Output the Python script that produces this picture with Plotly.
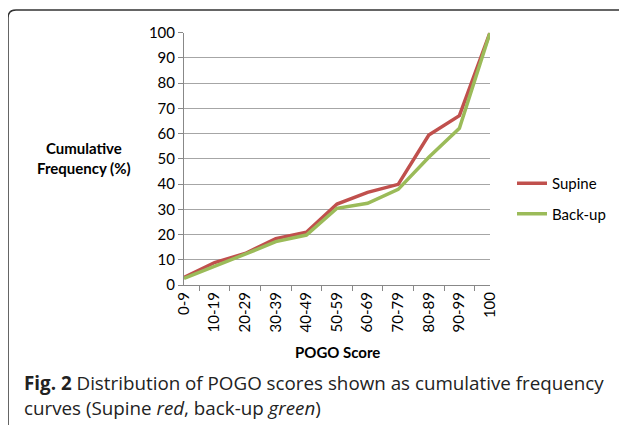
import plotly.graph_objects as go

categories = ["0-9", "10-19", "20-29", "30-39", "40-49", "50-59", "60-69", "70-79", "80-89", "90-99", "100"]
supine = [3.0, 8.9, 12.5, 18.4, 20.9, 32.1, 36.7, 39.9, 59.4, 67.1, 100]
backup = [2.6, 7.3, 12.2, 17.2, 19.8, 30.4, 32.4, 37.9, 50.6, 62.1, 100]
y_ticks = list(range(0, 101, 10))

W, H = 627, 425
OFF = 8  # page body margin compensation
FONT = "Lato"

def px(x):
    return (x - OFF) / W

def py(y):
    return 1 - (y - OFF) / H

fig = go.Figure()
fig.add_trace(go.Scatter(x=categories, y=supine, mode="lines", name="Supine",
                         line=dict(color="#c0504d", width=3.5), legendgroup="a"))
fig.add_trace(go.Scatter(x=categories, y=backup, mode="lines", name="Back-up",
                         line=dict(color="#9bbb59", width=3.5), legendgroup="b"))

fig.update_layout(
    template="none",
    width=W, height=H, autosize=False,
    margin=dict(l=0, r=0, t=0, b=0, pad=0),
    paper_bgcolor="white", plot_bgcolor="white",
    font=dict(family=FONT, size=15, color="#000"),
    xaxis=dict(domain=[px(184), px(490)], type="category", tickangle=-90,
               automargin=False,
               showline=True, linecolor="#888", linewidth=1,
               ticks="outside", ticklen=5, tickcolor="#888", tickson="boundaries",
               showgrid=False, zeroline=False, tickfont=dict(size=15, family=FONT)),
    yaxis=dict(domain=[py(285), py(32.7)], range=[0, 100], tickvals=y_ticks,
               automargin=False,
               showline=True, linecolor="#888", linewidth=1,
               ticks="outside", ticklen=5, tickcolor="#888",
               showgrid=True, gridcolor="#a6a6a6", gridwidth=1,
               zeroline=False, tickfont=dict(size=15, family=FONT)),
    legend=dict(x=px(512), y=py(167), xanchor="left", yanchor="top",
                font=dict(size=15, family=FONT), traceorder="grouped",
                tracegroupgap=8, bgcolor="rgba(0,0,0,0)", itemwidth=30),
    showlegend=True,
)

# Frame around figure (rounded top-left corner)
path = (f"M {px(8)},{py(H + OFF)} L {px(8)},{py(18)} Q {px(8)},{py(10)} {px(16)},{py(10)} "
        f"L {px(W + OFF)},{py(10)}")
fig.add_shape(type="path", path=path, xref="paper", yref="paper",
              line=dict(color="#333", width=1.5))

fig.add_annotation(text="<b>Cumulative<br>Frequency (%)</b>", x=px(84), y=py(158),
                   xref="paper", yref="paper", xanchor="center", yanchor="middle",
                   showarrow=False, font=dict(size=15, family=FONT), align="center")
fig.add_annotation(text="<b>POGO Score</b>", x=px(337), y=py(352),
                   xref="paper", yref="paper", xanchor="center", yanchor="middle",
                   showarrow=False, font=dict(size=15, family=FONT))
fig.add_annotation(text="<b>Fig. 2</b> Distribution of POGO scores shown as cumulative frequency",
                   x=px(22), y=py(383), xref="paper", yref="paper", xanchor="left",
                   yanchor="middle",
                   showarrow=False, font=dict(size=18.8, family="Open Sans", color="#222"))
fig.add_annotation(text="curves (Supine <i>red</i>, back-up <i>green</i>)",
                   x=px(22), y=py(408), xref="paper", yref="paper", xanchor="left",
                   yanchor="middle",
                   showarrow=False, font=dict(size=18.8, family="Open Sans", color="#222"))

fig.write_html("out.html")
